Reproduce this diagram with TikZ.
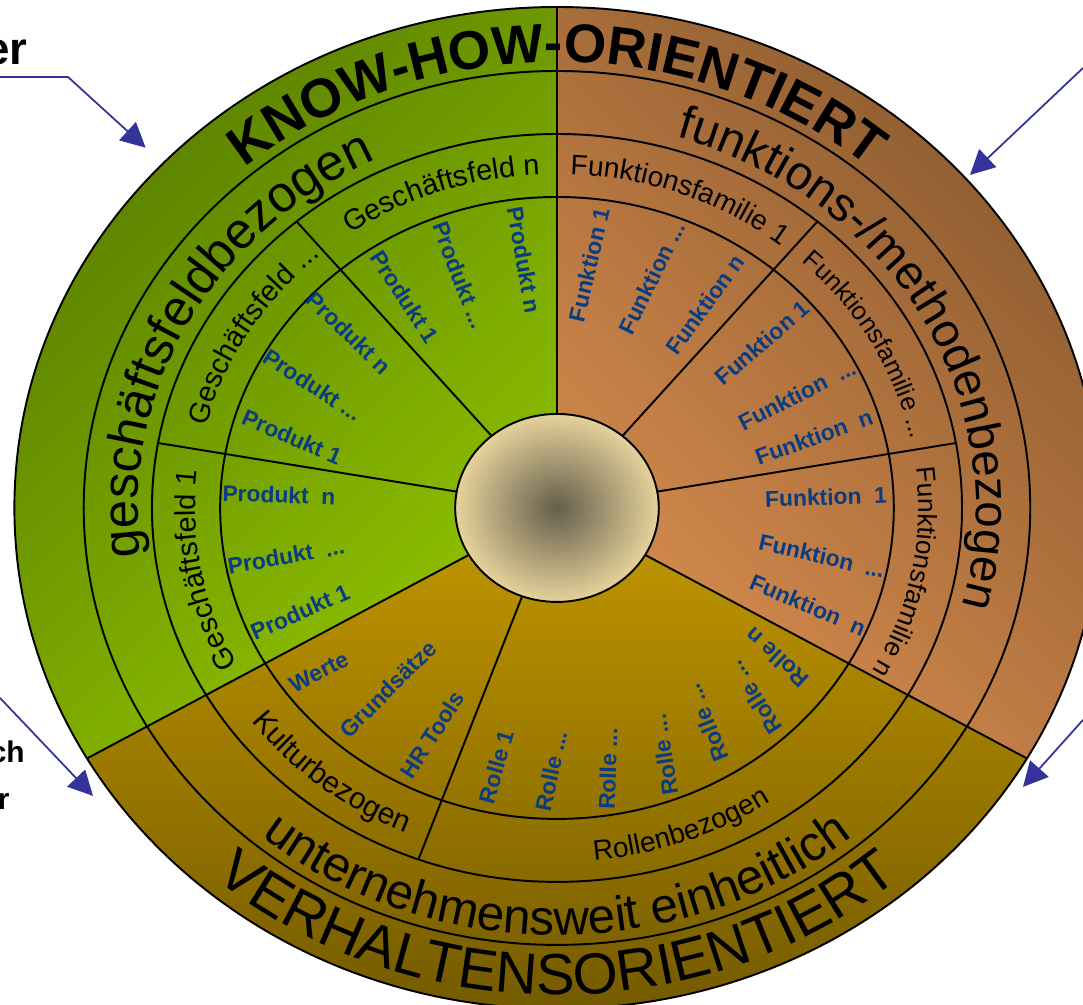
\documentclass[tikz,border=0pt]{standalone}
\usepackage{fontspec}
\setmainfont{Liberation Sans}
\usepackage{tikz}
\usetikzlibrary{decorations.text, arrows.meta}

\definecolor{leafdark}{RGB}{88,125,0}
\definecolor{leaflight}{RGB}{145,196,0}
\definecolor{rustdark}{RGB}{132,86,44}
\definecolor{rustlight}{RGB}{215,140,78}
\definecolor{ochrelight}{RGB}{195,152,0}
\definecolor{ochredark}{RGB}{105,82,0}
\definecolor{hubdark}{RGB}{100,94,75}
\definecolor{hublight}{RGB}{230,210,155}
\definecolor{itemblue}{RGB}{10,60,130}
\definecolor{arrowblue}{RGB}{51,51,153}

\tikzstyle{rim} = [black, line width=1.1pt]
\tikzstyle{item} = [font=\bfseries\fontsize{13}{13}\selectfont, text=itemblue, inner sep=0pt]
\tikzstyle{pointer} = [arrowblue, line width=1pt, -{Triangle[length=14pt,width=14pt]}]
\tikzstyle{margintext} = [anchor=base east, inner sep=0pt]

% clockwise arc, letters facing outwards: radius, middle angle, font, text
\newcommand{\outlabel}[4]{%
  \path[decorate, decoration={text along path, text align=center,
      text={|#3|#4}}]
    ({#2+75}:#1) arc[start angle={#2+75}, end angle={#2-75}, radius=#1];
}
% counter-clockwise arc, letters facing inwards
\newcommand{\inlabel}[4]{%
  \path[decorate, decoration={text along path, text align=center,
      text={|#3|#4}}]
    ({#2-75}:#1) arc[start angle={#2-75}, end angle={#2+75}, radius=#1];
}
\newcommand{\fs}[1]{\fontsize{#1}{#1}\selectfont}

\begin{document}
\begin{tikzpicture}[x=0.02166cm, y=0.02cm]
  \useasboundingbox (-514.3,-497) rectangle (485.7,508);
  \clip (-514.3,-497) rectangle (485.7,508);

  % Sectors:
  \shade[top color=leafdark, bottom color=leaflight, shading angle=45]
    (0,0) -- (90:501) arc[start angle=90, end angle=210, radius=501] -- cycle;
  \shade[top color=rustdark, bottom color=rustlight, shading angle=-45]
    (0,0) -- (-30:501) arc[start angle=-30, end angle=90, radius=501] -- cycle;
  \shade[top color=ochrelight, bottom color=ochredark]
    (0,0) -- (210:501) arc[start angle=210, end angle=330, radius=501] -- cycle;

  % Rings and spokes:
  \foreach \rad in {501,437,374,311}
    \draw[rim] (0,0) circle[radius=\rad];
  \foreach \a in {90,210,330}
    \draw[rim] (0,0) -- (\a:501);
  \foreach \a in {130,170,50,10,250}
    \draw[rim] (0,0) -- (\a:374);

  % Hub:
  \shadedraw[rim, inner color=hubdark, outer color=hublight] (0,0) circle[radius=94];

  % Ring texts:
  \outlabel{446}{90}{\bfseries\fs{31}}{KNOW-HOW-ORIENTIERT}
  \inlabel{487}{270}{\fs{33}}{VERHALTENSORIENTIERT}
  \outlabel{387}{152.5}{\fs{29}}{geschäftsfeldbezogen}
  \outlabel{387}{28.5}{\fs{27}}{funktions-/methodenbezogen}
  \inlabel{427}{270}{\fs{28}}{unternehmensweit einheitlich}
  \outlabel{334}{110}{\fs{16.5}}{Geschäftsfeld n}
  \outlabel{334}{150}{\fs{16.5}}{Geschäftsfeld ...}
  \outlabel{334}{190}{\fs{16.5}}{Geschäftsfeld 1}
  \outlabel{334}{68.5}{\fs{16}}{Funktionsfamilie 1}
  \outlabel{334}{28}{\fs{14.5}}{Funktionsfamilie ...}
  \outlabel{334}{-10.5}{\fs{15}}{Funktionsfamilie n}
  \inlabel{354}{230}{\fs{17}}{Kulturbezogen}
  \inlabel{354}{291}{\fs{16}}{Rollenbezogen}

  % Geschaeftsfeld n
  \node[item, rotate=-57] (prodA1) at (-140.4,211) {Produkt 1};
  \node[item, rotate=-69] (prodA2) at (-89.6,233) {Produkt ...};
  \node[item, rotate=-80] (prodA3) at (-30.5,248) {Produkt n};
  % Geschaeftsfeld ...
  \node[item, rotate=-44] (prodB1) at (-192.1,175) {Produkt n};
  \node[item, rotate=-33] (prodB2) at (-225.3,123) {Produkt ...};
  \node[item, rotate=-23] (prodB3) at (-244.7,71) {Produkt 1};
  % Geschaeftsfeld 1
  \node[item, rotate=-2] (prodC1) at (-256.7,13) {Produkt~~n};
  \node[item, rotate=10] (prodC2) at (-250.2,-48) {Produkt~~...};
  \node[item, rotate=24] (prodC3) at (-237.3,-104) {Produkt 1};

  % Funktionsfamilie 1
  \node[item, rotate=77] (funkD1) at (29.5,243) {Funktion 1};
  \node[item, rotate=64] (funkD2) at (87.7,230) {Funktion ...};
  \node[item, rotate=54] (funkD3) at (136.7,203) {Funktion n};
  % Funktionsfamilie ...
  \node[item, rotate=41] (funkE1) at (189.3,165) {Funktion 1};
  \node[item, rotate=27] (funkE2) at (221.6,113) {Funktion~~...};
  \node[item, rotate=20] (funkE3) at (237.3,71) {Funktion~~n};
  % Funktionsfamilie n
  \node[item, rotate=2] (funkF1) at (248.4,11) {Funktion~~1};
  \node[item, rotate=-13] (funkF2) at (244.7,-48) {Funktion~~...};
  \node[item, rotate=-23] (funkF3) at (231.8,-97) {Funktion~~n};

  % Kulturbezogen
  \node[item, rotate=27] (werte) at (-219.8,-164) {Werte};
  \node[item, rotate=45] (grund) at (-156,-181) {Grundsätze};
  \node[item, rotate=57] (hrtools) at (-115.4,-227) {HR Tools};

  % Rollenbezogen
  \node[item, rotate=74] (rolle1) at (-56.3,-259) {Rolle 1};
  \node[item, rotate=78] (rolle2) at (-5.5,-263) {Rolle ...};
  \node[item, rotate=88] (rolle3) at (47.1,-261) {Rolle ...};
  \node[item, rotate=99] (rolle4) at (98.8,-247) {Rolle ...};
  \node[item, rotate=112] (rolle5) at (138.5,-215) {Rolle ...};
  \node[item, rotate=123] (rolle6) at (182.8,-190) {Rolle ...};
  \node[item, rotate=137] (rolle7) at (203.1,-150) {Rolle n};

  % Margin notes and arrows:
  \node[margintext, font=\bfseries\fs{26}] (noteTL) at (-488.5,443) {er};
  \node[margintext, font=\bfseries\fs{17}] (noteBL) at (-491.2,-255) {ch};
  \node[margintext, font=\bfseries\fs{17}] (noteBL2) at (-505.1,-302) {r};

  \coordinate (tlStart) at (-514.3,431);
  \coordinate (tlKnee) at (-451.5,431);
  \coordinate (tlTip) at (-379.8,360.3);
  \coordinate (trStart) at (485.7,440);
  \coordinate (trTip) at (381.3,333);
  \coordinate (blStart) at (-514.3,-190);
  \coordinate (blTip) at (-428.4,-288);
  \coordinate (brStart) at (485.7,-212);
  \coordinate (brTip) at (430.3,-279);

  \draw[pointer] (tlStart) -- (tlKnee) -- (tlTip);
  \draw[pointer] (trStart) -- (trTip);
  \draw[pointer] (blStart) -- (blTip);
  \draw[pointer] (brStart) -- (brTip);
\end{tikzpicture}
\end{document}
